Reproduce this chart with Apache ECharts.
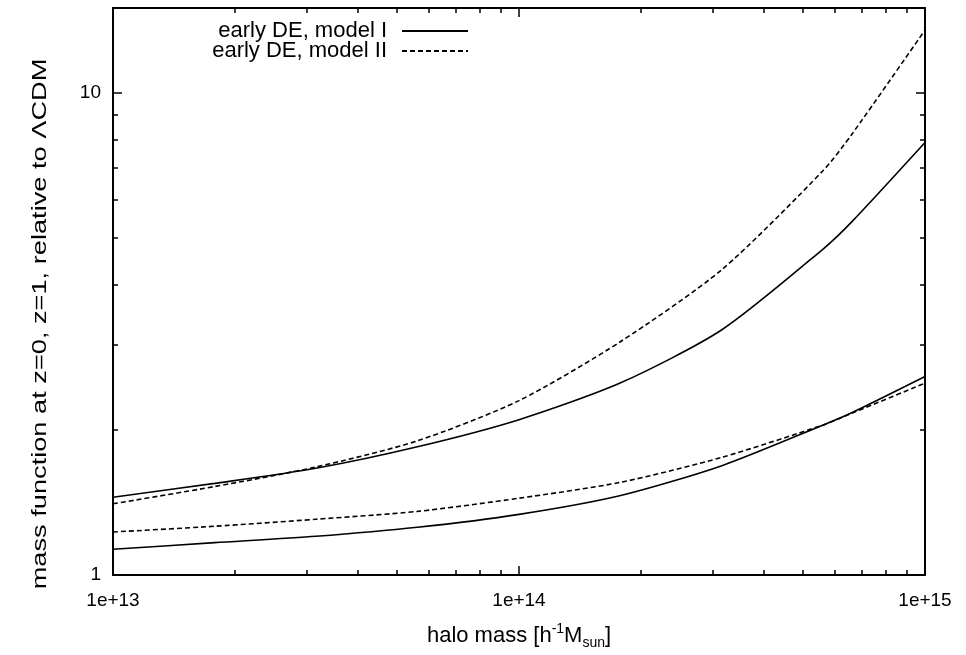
<!DOCTYPE html>
<html>
<head>
<meta charset="utf-8">
<script src="https://cdn.jsdelivr.net/npm/echarts@6/dist/echarts.min.js"></script>
<style>
  html, body { margin: 0; padding: 0; background: #fff; }
  #main { width: 966px; height: 655px; }
</style>
</head>
<body>
<div id="main"></div>
<script>
// halo mass grid [h^-1 M_sun]
var haloMass = [1e13, 1.78e13, 3.16e13, 5.62e13, 1e14, 1.78e14, 3.16e14, 5.62e14, 6.6e14, 1e15]

// mass function relative to LCDM
var modelI_z1 = [1.45, 1.549, 1.665, 1.845, 2.10, 2.504, 3.226, 4.75, 5.40, 7.89]
var modelII_z1 = [1.405, 1.526, 1.675, 1.898, 2.30, 3.05, 4.30, 6.91, 8.2, 13.5]
var modelI_z0 = [1.131, 1.167, 1.203, 1.256, 1.336, 1.462, 1.686, 2.048, 2.17, 2.58]
var modelII_z0 = [1.228, 1.262, 1.305, 1.355, 1.443, 1.557, 1.754, 2.048, 2.165, 2.50]

var xMajor = [1e13, 1e14, 1e15]
var xMinor = [2e13, 3e13, 4e13, 5e13, 6e13, 7e13, 8e13, 9e13, 2e14, 3e14, 4e14, 5e14, 6e14, 7e14, 8e14, 9e14]
var yMajor = [1, 10]
var yMinor = [2, 3, 4, 5, 6, 7, 8, 9]

var FONT = 'Liberation Sans'

function pairs(ys) {
  return haloMass.map(function (m, i) { return [m, ys[i]] })
}

function xAxisDef(pos, ticks, len, withLine, withLabel) {
  return {
    type: 'log',
    position: pos,
    min: 1e13,
    max: 1.000001e15,
    axisLine: { show: withLine, onZero: false, lineStyle: { color: '#000', width: 2 } },
    axisTick: { show: true, inside: true, length: len, customValues: ticks, lineStyle: { color: '#000', width: 1.5 } },
    axisLabel: {
      show: withLabel,
      customValues: ticks,
      showMinLabel: true,
      showMaxLabel: true,
      color: '#000',
      fontFamily: FONT,
      fontSize: 19,
      margin: 16,
      formatter: function (v) { return '1e+' + Math.round(Math.log10(v)) }
    },
    splitLine: { show: false },
    minorTick: { show: false }
  }
}

function yAxisDef(pos, ticks, len, withLine, withLabel) {
  return {
    type: 'log',
    position: pos,
    min: 1,
    max: 15,
    axisLine: { show: withLine, onZero: false, lineStyle: { color: '#000', width: 2 } },
    axisTick: { show: true, inside: true, length: len, customValues: ticks, lineStyle: { color: '#000', width: 1.5 } },
    axisLabel: {
      show: withLabel,
      customValues: ticks,
      showMinLabel: true,
      showMaxLabel: true,
      color: '#000',
      fontFamily: FONT,
      fontSize: 19,
      margin: 12,
      formatter: function (v) { return String(Math.round(v)) }
    },
    splitLine: { show: false },
    minorTick: { show: false }
  }
}

var chart = echarts.init(document.getElementById('main'), null, { renderer: 'canvas' })

var solid = { color: '#000', width: 1.6, type: 'solid' }
var dashed = { color: '#000', width: 1.6, type: [5, 3] }

function curve(name, ys, style) {
  return {
    name: name,
    type: 'line',
    data: pairs(ys),
    symbol: 'none',
    showSymbol: false,
    smooth: 0.25,
    lineStyle: style,
    itemStyle: { color: '#000' }
  }
}

var option = {
  animation: false,
  backgroundColor: '#fff',
  grid: { left: 113, right: 41, top: 8, bottom: 75, containLabel: false },
  legend: {
    data: ['early DE, model I', 'early DE, model II'],
    orient: 'vertical',
    right: 492,
    top: 15,
    align: 'right',
    itemGap: -2,
    itemWidth: 66,
    itemHeight: 14,
    itemStyle: { opacity: 0 },
    textStyle: { color: '#000', fontFamily: FONT, fontSize: 22, padding: [0, 10, 0, 0] }
  },
  xAxis: [
    Object.assign(xAxisDef('bottom', xMajor, 9, true, true), {
      name: '{a|halo mass [h}{sup|-1}{a|M}{sub|sun}{a|]}',
      nameLocation: 'middle',
      nameGap: 47,
      nameTextStyle: {
        rich: {
          a: { fontFamily: FONT, fontSize: 22, color: '#000', lineHeight: 28 },
          sup: { fontFamily: FONT, fontSize: 14, color: '#000', lineHeight: 28, verticalAlign: 'top' },
          sub: { fontFamily: FONT, fontSize: 14, color: '#000', lineHeight: 28, verticalAlign: 'bottom' }
        }
      }
    }),
    xAxisDef('bottom', xMinor, 5, false, false),
    xAxisDef('top', xMajor, 9, true, false),
    xAxisDef('top', xMinor, 5, false, false)
  ],
  yAxis: [
    yAxisDef('left', yMajor, 9, true, true),
    yAxisDef('left', yMinor, 5, false, false),
    yAxisDef('right', yMajor, 9, true, false),
    yAxisDef('right', yMinor, 5, false, false)
  ],
  graphic: [
    {
      type: 'text',
      x: 40,
      y: 324,
      rotation: Math.PI / 2,
      scaleX: 1.36,
      style: {
        text: 'mass function at z=0, z=1, relative to ΛCDM',
        fontFamily: FONT,
        fontSize: 20,
        fill: '#000',
        align: 'center',
        verticalAlign: 'middle'
      }
    }
  ],
  series: [
    curve('early DE, model I', modelI_z1, solid),
    curve('early DE, model II', modelII_z1, dashed),
    curve('early DE, model I', modelI_z0, solid),
    curve('early DE, model II', modelII_z0, dashed)
  ]
}

chart.setOption(option)
</script>
</body>
</html>
